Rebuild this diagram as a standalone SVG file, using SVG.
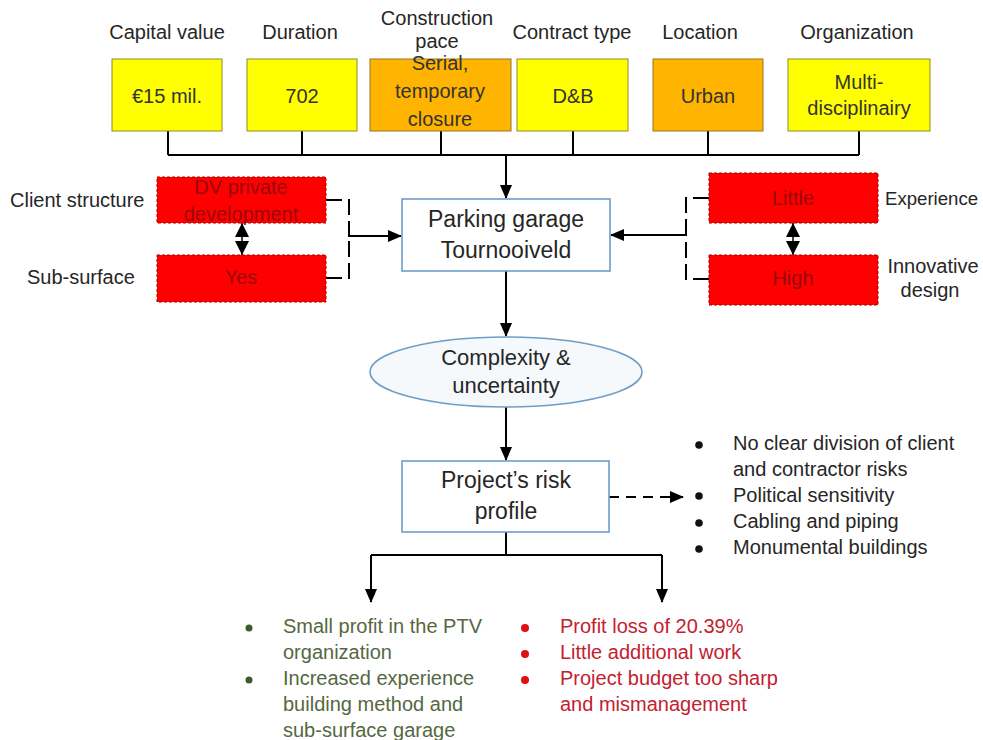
<svg xmlns="http://www.w3.org/2000/svg" width="983" height="740" viewBox="0 0 983 740">
<defs>
<marker id="arr" markerWidth="14" markerHeight="12" refX="13" refY="6" orient="auto" markerUnits="userSpaceOnUse">
<path d="M0,0 L14,6 L0,12 Z" fill="#000"/>
</marker>
<marker id="dbl" markerWidth="14" markerHeight="14" refX="14" refY="7" orient="auto-start-reverse" markerUnits="userSpaceOnUse">
<path d="M0,0 L14,7 L0,14 Z" fill="#000"/>
</marker>
<style>
text{font-family:"Liberation Sans",Arial,sans-serif;}
.lbl{font-size:20px;fill:#262626;text-anchor:middle;}
.lbls{font-size:20px;fill:#262626;}
.btx{font-size:20px;fill:#333;text-anchor:middle;}
.rtx{font-size:20px;fill:#9a0808;text-anchor:middle;}
.ctx{font-size:23px;fill:#262626;text-anchor:middle;}
.yel{fill:#ffff00;stroke:#8c8a30;stroke-width:1;}
.org{fill:#ffb400;stroke:#9a7420;stroke-width:1;}
.red{fill:#ff0000;stroke:#b00000;stroke-width:1;stroke-dasharray:3 2;}
.blu{fill:#fff;stroke:#6f9dc6;stroke-width:1.6;}
.ln{fill:none;stroke:#000;stroke-width:2;}
.dash{fill:none;stroke:#000;stroke-width:2;stroke-dasharray:16 6;}
.bk{font-size:20px;fill:#262626;}
.gr{font-size:20px;fill:#55683f;}
.rd{font-size:20px;fill:#c42030;}
</style>
</defs>
<rect width="983" height="740" fill="#fff"/>

<g id="connectors">
<path class="ln" d="M168,131 V155 M302,131 V155 M441,131 V155 M573,131 V155 M708,131 V155 M859,131 V155 M168,155 H859"/>
<path class="ln" d="M506,155 V198" marker-end="url(#arr)"/>
<path class="ln" d="M506,271 V336" marker-end="url(#arr)"/>
<path class="ln" d="M506,407 V460" marker-end="url(#arr)"/>
<path class="ln" d="M506,532 V555 M371,555 H662"/>
<path class="ln" d="M371,555 V602" marker-end="url(#arr)"/>
<path class="ln" d="M662,555 V602" marker-end="url(#arr)"/>
<path fill="none" stroke="#000" stroke-width="2" stroke-dasharray="10 7" d="M609,497 H683" marker-end="url(#arr)"/>
<path class="dash" d="M326,200 H349 V236 H401" marker-end="url(#arr)"/>
<path class="dash" d="M326,278 H349 V236 H401"/>
<path class="dash" d="M709,198 H686 V235 H611" marker-end="url(#arr)"/>
<path class="dash" d="M709,279 H686 V235 H611"/>
<path stroke="#000" stroke-width="1.5" d="M242,223 V255" marker-start="url(#dbl)" marker-end="url(#dbl)"/>
<path stroke="#000" stroke-width="1.5" d="M793,223 V255" marker-start="url(#dbl)" marker-end="url(#dbl)"/>
</g>

<g id="capital-value">
<text class="lbl" x="167" y="39">Capital value</text>
<rect class="yel" x="112" y="59" width="110" height="72"/>
<text class="btx" x="167" y="103">€15 mil.</text>
</g>
<g id="duration">
<text class="lbl" x="300" y="39">Duration</text>
<rect class="yel" x="247" y="59" width="110" height="72"/>
<text class="btx" x="302" y="103">702</text>
</g>
<g id="construction-pace">
<text class="lbl" x="437" y="25">Construction</text>
<text class="lbl" x="437" y="48">pace</text>
<rect class="org" x="370" y="59" width="141" height="72"/>
<text class="btx" x="440" y="70">Serial,</text>
<text class="btx" x="440" y="98">temporary</text>
<text class="btx" x="440" y="126">closure</text>
</g>
<g id="contract-type">
<text class="lbl" x="572" y="39">Contract type</text>
<rect class="yel" x="517" y="59" width="111" height="72"/>
<text class="btx" x="573" y="103">D&amp;B</text>
</g>
<g id="location">
<text class="lbl" x="700" y="39">Location</text>
<rect class="org" x="653" y="59" width="110" height="72"/>
<text class="btx" x="708" y="103">Urban</text>
</g>
<g id="organization">
<text class="lbl" x="857" y="39">Organization</text>
<rect class="yel" x="788" y="59" width="142" height="72"/>
<text class="btx" x="859" y="89">Multi-</text>
<text class="btx" x="859" y="115">disciplinairy</text>
</g>

<g id="client-structure">
<text class="lbls" x="10" y="207">Client structure</text>
<rect class="red" x="157" y="177" width="169" height="46"/>
<text class="rtx" x="241" y="194">DV private</text>
<text class="rtx" x="241" y="221">development</text>
</g>
<g id="sub-surface">
<text class="lbls" x="27" y="284">Sub-surface</text>
<rect class="red" x="157" y="255" width="169" height="47"/>
<text class="rtx" x="241" y="284">Yes</text>
</g>
<g id="experience">
<rect class="red" x="709" y="173" width="169" height="50"/>
<text class="rtx" x="793" y="205">Little</text>
<text class="lbls" style="font-size:18.6px" x="885" y="205">Experience</text>
</g>
<g id="innovative-design">
<rect class="red" x="709" y="255" width="169" height="50"/>
<text class="rtx" x="793" y="285">High</text>
<text class="lbl" x="933" y="273">Innovative</text>
<text class="lbl" x="930" y="297">design</text>
</g>

<g id="parking-garage">
<rect class="blu" x="402" y="199" width="208" height="72"/>
<text class="ctx" x="506" y="227">Parking garage</text>
<text class="ctx" x="506" y="258">Tournooiveld</text>
</g>
<g id="complexity">
<ellipse cx="506" cy="372" rx="136" ry="35" fill="#f6f9fc" stroke="#6f9dc6" stroke-width="1.6"/>
<text class="ctx" style="font-size:22px" x="506" y="365">Complexity &amp;</text>
<text class="ctx" style="font-size:22px" x="506" y="393">uncertainty</text>
</g>
<g id="risk-profile">
<rect class="blu" x="402" y="461" width="207" height="71"/>
<text class="ctx" x="506" y="488">Project’s risk</text>
<text class="ctx" x="506" y="519">profile</text>
</g>

<g id="risks">
<circle cx="699" cy="445" r="3.8" fill="#111"/>
<circle cx="699" cy="496" r="3.8" fill="#111"/>
<circle cx="699" cy="523" r="3.8" fill="#111"/>
<circle cx="699" cy="549" r="3.8" fill="#111"/>
<text class="bk" x="733" y="450">No clear division of client</text>
<text class="bk" x="733" y="476">and contractor risks</text>
<text class="bk" x="733" y="502">Political sensitivity</text>
<text class="bk" x="733" y="528">Cabling and piping</text>
<text class="bk" x="733" y="554">Monumental buildings</text>
</g>
<g id="positive-outcomes">
<circle cx="249" cy="628" r="3.5" fill="#3d5a2a"/>
<circle cx="249" cy="680" r="3.5" fill="#3d5a2a"/>
<text class="gr" x="283" y="633">Small profit in the PTV</text>
<text class="gr" x="283" y="659">organization</text>
<text class="gr" x="283" y="685">Increased experience</text>
<text class="gr" x="283" y="711">building method and</text>
<text class="gr" x="283" y="737">sub-surface garage</text>
</g>
<g id="negative-outcomes">
<circle cx="525" cy="628" r="4" fill="#e01010"/>
<circle cx="525" cy="654" r="4" fill="#e01010"/>
<circle cx="525" cy="680" r="4" fill="#e01010"/>
<text class="rd" x="560" y="633">Profit loss of 20.39%</text>
<text class="rd" x="560" y="659">Little additional work</text>
<text class="rd" x="560" y="685">Project budget too sharp</text>
<text class="rd" x="560" y="711">and mismanagement</text>
</g>
</svg>
